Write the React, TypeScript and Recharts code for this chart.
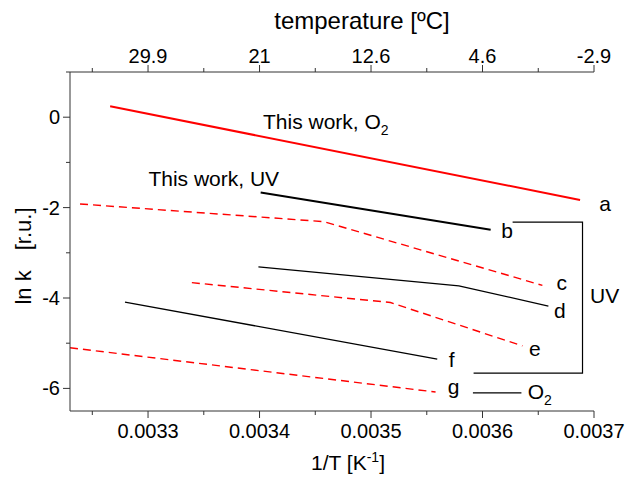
import { LineChart, Line, XAxis, YAxis, ReferenceDot } from "recharts";

const FONT = '"Liberation Sans", Arial, Helvetica, sans-serif';
const AXIS = "#333";
const RED = "#ff0000";

// 1/T [K^-1] and ln k for each curve
const aInvT = [0.003266, 0.0036875];
const aLnK = [0.24, -1.83];
const bInvT = [0.003401, 0.0036073];
const bLnK = [-1.665, -2.49];
const cInvT = [0.003239, 0.0034575, 0.0036537];
const cLnK = [-1.92, -2.31, -3.72];
const dInvT = [0.003399, 0.0035788, 0.0036591];
const dLnK = [-3.31, -3.73, -4.18];
const eInvT = [0.0033393, 0.0035174, 0.0036358];
const eLnK = [-3.66, -4.1, -5.06];
const fInvT = [0.0032793, 0.0035594];
const fLnK = [-4.09, -5.35];
const gInvT = [0.00323, 0.0035579];
const gLnK = [-5.1, -6.08];

// UV bracket and O2 key line
const bracketInvT = [0.003627, 0.0036897, 0.0036897, 0.003592];
const bracketLnK = [-2.32, -2.32, -5.66, -5.66];
const o2KeyInvT = [0.0035914, 0.0036349];
const o2KeyLnK = [-6.1, -6.1];

// ticks
const xMajor = [0.0033, 0.0034, 0.0035, 0.0036, 0.0037];
const xMajorLabels = ["0.0033", "0.0034", "0.0035", "0.0036", "0.0037"];
const tempLabels = ["29.9", "21", "12.6", "4.6", "-2.9"];
const xMinor = [0.00325, 0.00335, 0.00345, 0.00355, 0.00365];
const yMajor = [0, -2, -4, -6];
const yMajorLabels = ["0", "-2", "-4", "-6"];
const yMinor = [1, -1, -3, -5];

// text annotations, anchored in data coordinates (baseline-left)
const noteText = ["a", "b", "c", "d", "e", "f", "g", "UV", "O", "This work, O", "This work, UV"];
const noteSub = ["", "", "", "", "", "", "", "", "2", "2", ""];
const noteInvT = [0.0037046, 0.0036169, 0.0036663, 0.0036642, 0.0036417, 0.0035698, 0.0035689, 0.0036965, 0.0036405, 0.0034031, 0.0033003];
const noteLnK = [-2.086, -2.676, -3.823, -4.45, -5.286, -5.537, -6.129, -4.118, -6.224, -0.259, -1.517];

const zip = (xs: number[], ys: number[]) => xs.map((x, i) => ({ x, y: ys[i] }));

const xTicks = [...xMajor, ...xMinor].sort((p, q) => p - q);
const yTicks = [...yMajor, ...yMinor].sort((p, q) => q - p);
const majorIndex = (list: number[], v: number) => list.findIndex((m) => Math.abs(m - v) < 1e-9);

function BottomTick({ x, y, payload }: any) {
  const i = majorIndex(xMajor, payload.value);
  return (
    <g>
      <line x1={x} x2={x} y1={y} y2={y + (i >= 0 ? 7 : 4)} stroke={AXIS} />
      {i >= 0 && (
        <text x={x} y={y + 27} textAnchor="middle" fontSize={20} fontFamily={FONT} fill="#000">
          {xMajorLabels[i]}
        </text>
      )}
    </g>
  );
}

function TopTick({ x, y, payload }: any) {
  const i = majorIndex(xMajor, payload.value);
  return (
    <g>
      <line x1={x} x2={x} y1={y} y2={y - (i >= 0 ? 7 : 4)} stroke={AXIS} />
      {i >= 0 && (
        <text x={x} y={y - 9} textAnchor="middle" fontSize={20} fontFamily={FONT} fill="#000">
          {tempLabels[i]}
        </text>
      )}
    </g>
  );
}

function LeftTick({ x, y, payload }: any) {
  const i = majorIndex(yMajor, payload.value);
  return (
    <g>
      <line x1={x} x2={x - (i >= 0 ? 7 : 4)} y1={y} y2={y} stroke={AXIS} />
      {i >= 0 && (
        <text x={x - 10} y={y + 7} textAnchor="end" fontSize={20} fontFamily={FONT} fill="#000">
          {yMajorLabels[i]}
        </text>
      )}
    </g>
  );
}

const lineProps = {
  xAxisId: "bottom",
  dataKey: "y",
  type: "linear" as const,
  dot: false,
  activeDot: false,
  isAnimationActive: false,
  legendType: "none" as const,
};

export default function App() {
  return (
    <div style={{ position: "absolute", left: 0, top: 0, width: 628, height: 477, background: "#fff" }}>
      <LineChart width={628} height={477} margin={{ top: 0, right: 34, bottom: 0, left: 0 }}>
        <XAxis
          xAxisId="bottom"
          dataKey="x"
          type="number"
          domain={[0.00323, 0.0037]}
          allowDataOverflow
          ticks={xTicks}
          interval={0}
          height={66}
          tickSize={0}
          tickMargin={0}
          tickLine={false}
          tick={<BottomTick />}
          stroke={AXIS}
        />
        <XAxis
          xAxisId="top"
          orientation="top"
          dataKey="x"
          type="number"
          domain={[0.00323, 0.0037]}
          allowDataOverflow
          ticks={xTicks}
          interval={0}
          height={72}
          tickSize={0}
          tickMargin={0}
          tickLine={false}
          tick={<TopTick />}
          stroke={AXIS}
        />
        <YAxis
          type="number"
          domain={[-6.5, 1]}
          allowDataOverflow
          ticks={yTicks}
          interval={0}
          width={70}
          tickSize={0}
          tickMargin={0}
          tickLine={false}
          tick={<LeftTick />}
          stroke={AXIS}
        />

        <Line {...lineProps} data={zip(aInvT, aLnK)} stroke={RED} strokeWidth={2} />
        <Line {...lineProps} data={zip(bInvT, bLnK)} stroke="#000" strokeWidth={2} />
        <Line {...lineProps} data={zip(cInvT, cLnK)} stroke={RED} strokeWidth={1.4} strokeDasharray="8 5" />
        <Line {...lineProps} data={zip(dInvT, dLnK)} stroke="#000" strokeWidth={1.3} />
        <Line {...lineProps} data={zip(eInvT, eLnK)} stroke={RED} strokeWidth={1.4} strokeDasharray="8 5" />
        <Line {...lineProps} data={zip(fInvT, fLnK)} stroke="#000" strokeWidth={1.3} />
        <Line {...lineProps} data={zip(gInvT, gLnK)} stroke={RED} strokeWidth={1.4} strokeDasharray="8 5" />
        <Line {...lineProps} data={zip(bracketInvT, bracketLnK)} stroke="#000" strokeWidth={1.2} />
        <Line {...lineProps} data={zip(o2KeyInvT, o2KeyLnK)} stroke="#000" strokeWidth={1.2} />

        {noteText.map((t, i) => (
          <ReferenceDot
            key={t + i}
            xAxisId="bottom"
            x={noteInvT[i]}
            y={noteLnK[i]}
            r={0}
            ifOverflow="visible"
            shape={(p: any) => (
              <text x={p.cx} y={p.cy} fontSize={21} fontFamily={FONT} fill="#000">
                {t}
                {noteSub[i] && (
                  <tspan dy={6} fontSize={14}>
                    {noteSub[i]}
                  </tspan>
                )}
              </text>
            )}
          />
        ))}
      </LineChart>

      <svg width={628} height={477} style={{ position: "absolute", left: 0, top: 0, pointerEvents: "none" }}>
        <text x={362} y={29} textAnchor="middle" fontSize={24} fontFamily={FONT} fill="#000">
          temperature [ºC]
        </text>
        <text x={348} y={470} textAnchor="middle" fontSize={21} fontFamily={FONT} fill="#000">
          1/T [K
          <tspan dy={-8} fontSize={14}>-1</tspan>
          <tspan dy={8}>]</tspan>
        </text>
        <text
          x={30.5}
          y={256}
          textAnchor="middle"
          fontSize={22}
          fontFamily={FONT}
          fill="#000"
          transform="rotate(-90 30.5 256)"
        >
          ln k<tspan dx={20}>[r.u.]</tspan>
        </text>
      </svg>
    </div>
  );
}
